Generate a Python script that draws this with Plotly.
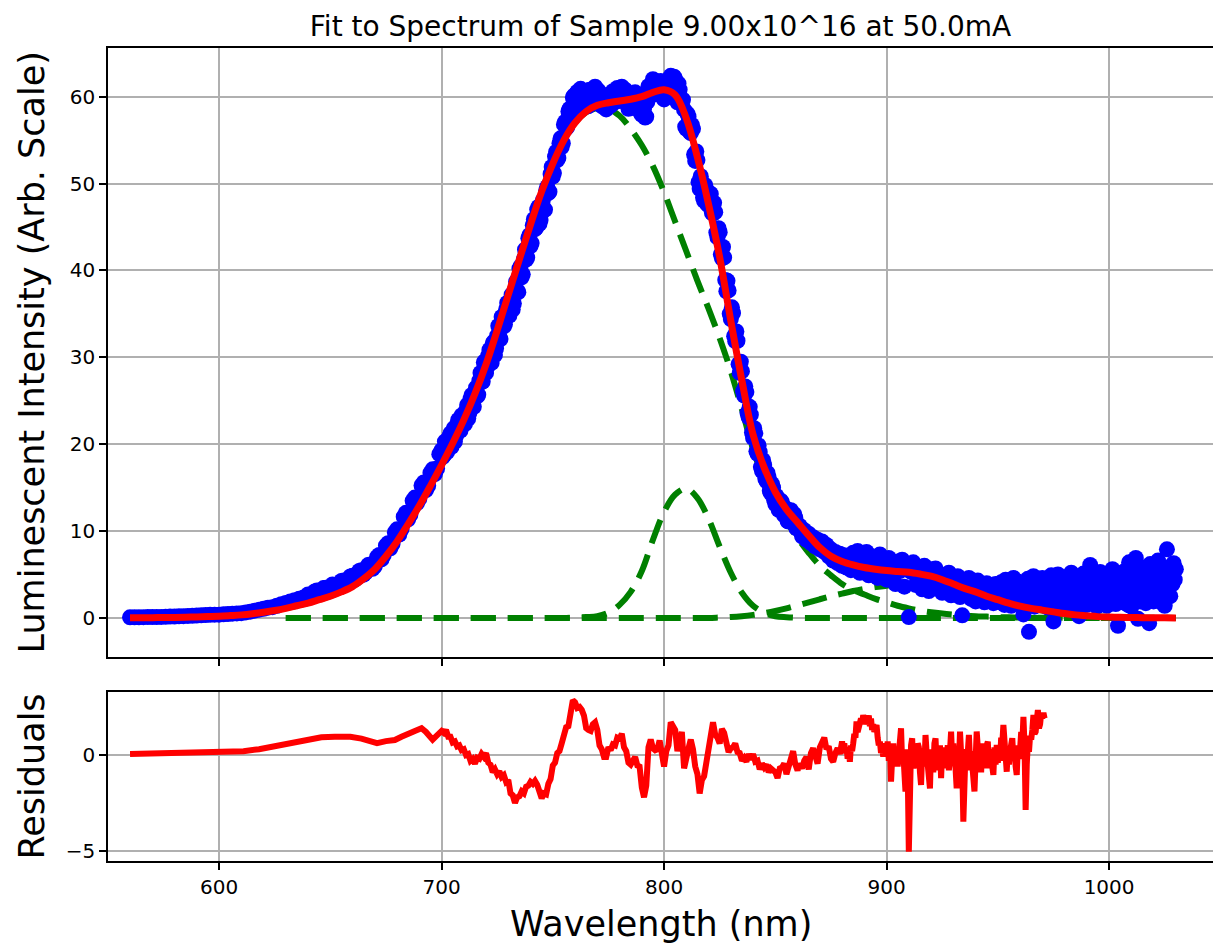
import plotly.graph_objects as go

# ---------------- data ----------------
# measured spectrum, blue points
wl_a = list(range(560, 700, 2))
int_a = [0.07, 0.08, 0.08, 0.09, 0.10, 0.10, 0.11, 0.12, 0.13, 0.15,
         0.16, 0.18, 0.20, 0.23, 0.25, 0.28, 0.30, 0.33, 0.36, 0.37,
         0.37, 0.41, 0.45, 0.49, 0.52, 0.55, 0.63, 0.72, 0.83, 0.95,
         1.05, 1.18, 1.24, 1.40, 1.58, 1.72, 1.90, 2.04, 2.20, 2.36,
         2.70, 2.55, 3.15, 3.00, 3.47, 3.24, 3.80, 3.75, 4.32, 4.15,
         4.85, 4.65, 5.50, 5.25, 6.15, 5.94, 7.25, 7.20, 8.60, 8.53,
         10.2, 10.2, 12.1, 11.9, 13.85, 13.7, 15.6, 15.2, 17.1, 17.2]
wl_a2 = list(range(641, 700, 2))
int_a2 = [2.4, 3.05, 2.8, 3.44, 3.16, 3.85, 3.5, 4.26, 3.94, 4.78,
          4.4, 5.4, 4.98, 6.08, 5.65, 7.0, 6.73, 8.33, 8.02, 9.84,
          9.6, 11.65, 11.35, 13.48, 13.23, 15.25, 14.7, 16.7, 16.55, 18.85]
wl_b = list(range(700, 861))
int_b = [19.3, 18.7, 19.95, 19.7, 21.25, 20.5, 20.3, 22.3, 21.9, 23.3,
         22.4, 23.85, 22.95, 25.2, 24.6, 25.95, 25.5, 27.3, 27.15, 29.4,
         28.2, 30.2, 29.8, 31.6, 30.25, 32.5, 32.35, 34.65, 33.55, 35.5,
         35.0, 36.6, 35.5, 37.65, 37.7, 40.2, 39.2, 41.3, 41.25, 43.7,
         42.8, 45.2, 44.75, 47.0, 45.35, 47.3, 46.9, 49.2, 48.9, 51.1,
         50.8, 53.1, 52.7, 54.65, 54.2, 56.8, 56.35, 58.3, 58.0, 59.9,
         59.1, 60.55, 59.0, 60.75, 59.6, 60.6, 58.9, 60.35, 59.4, 61.15,
         59.5, 60.3, 58.9, 60.1, 58.53, 60.2, 58.97, 60.63, 59.7, 61.0,
         59.72, 61.14, 59.6, 60.5, 58.6, 59.6, 59.0, 60.5, 58.85, 59.61,
         57.9, 58.6, 57.7, 61.2, 60.67, 62.0, 60.27, 61.73, 60.59, 61.6,
         59.68, 61.25, 60.5, 62.4, 61.6, 62.0, 59.35, 60.8, 59.4, 58.5,
         56.3, 57.7, 55.8, 56.3, 52.6, 52.7, 49.4, 50.2, 48.0, 49.2,
         47.5, 48.8, 46.55, 46.7, 43.8, 44.4, 41.4, 41.5, 37.6, 37.7,
         34.4, 35.1, 31.85, 31.9, 28.2, 28.4, 25.6, 26.0, 23.1, 23.4,
         20.71, 21.25, 18.9, 19.11, 16.9, 17.6, 15.75, 16.2, 14.35, 15.0,
         13.1, 13.7, 12.6, 13.3, 11.8, 12.1, 11.1, 12.4, 11.47, 11.5,
         10.4]
wl_b2 = [700.5 + i for i in range(160)]
int_b2 = [18.5, 20.3, 19.1, 20.9, 19.7, 21.8, 20.95, 22.8, 21.55, 23.3,
          22.3, 24.5, 23.6, 25.65, 24.3, 26.5, 25.7, 28.2, 27.2, 29.55,
          28.85, 30.85, 29.35, 31.8, 31.0, 33.6, 32.1, 34.65, 33.8, 36.25,
          34.8, 37.2, 36.2, 38.7, 37.5, 40.45, 39.55, 42.4, 41.5, 44.05,
          43.15, 45.9, 44.9, 47.3, 45.8, 48.05, 47.0, 49.6, 49.05, 51.9,
          51.2, 53.65, 52.95, 55.2, 54.65, 57.1, 56.5, 58.6, 58.35, 60.1,
          60.3, 59.3, 60.9, 59.5, 60.4, 59.2, 60.8, 59.6, 60.5, 59.3,
          60.7, 59.1, 60.0, 58.8, 59.9, 59.0, 60.4, 59.3, 60.6, 59.5,
          60.9, 59.8, 60.8, 59.1, 59.9, 58.7, 60.2, 58.9, 59.6, 58.1,
          58.9, 57.6, 59.4, 60.2, 61.4, 60.5, 61.5, 60.4, 61.8, 60.3,
          61.0, 60.2, 61.9, 61.1, 62.3, 60.9, 61.5, 59.6, 59.65, 56.55,
          58.05, 55.95, 56.75, 53.35, 53.7, 50.15, 50.85, 48.4, 49.8, 47.6,
          48.9, 46.63, 47.78, 44.35, 44.85, 41.85, 42.7, 38.9, 38.8, 35.0,
          35.75, 32.43, 32.98, 29.2, 29.5, 26.1, 26.65, 23.6, 24.3, 21.35,
          21.83, 19.18, 19.86, 17.36, 18.15, 16.03, 16.68, 14.63, 15.43, 13.55,
          14.05, 12.45, 13.5, 12.1, 12.65, 11.15, 12.2, 11.24, 11.94, 10.3]
wl_c = list(range(861, 951))
int_c = [10.6, 9.4, 10.1, 9.0, 9.7, 8.6, 9.3, 8.2, 9.0, 7.9,
         8.8, 7.6, 8.4, 7.1, 7.9, 6.6, 7.6, 6.3, 7.4, 6.0,
         7.2, 5.8, 6.9, 5.5, 7.5, 6.4, 7.7, 5.2, 7.4, 6.2,
         7.6, 4.9, 7.1, 5.9, 6.8, 4.6, 7.3, 5.6, 6.4, 4.4,
         6.9, 5.1, 6.2, 3.9, 6.5, 5.4, 6.7, 3.6, 5.8, 0.1,
         5.3, 6.4, 3.8, 5.9, 4.6, 3.3, 6.0, 4.9, 3.1, 5.6,
         4.2, 5.7, 3.4, 5.0, 2.9, 4.7, 3.6, 5.2, 2.6, 4.5,
         3.1, 4.8, 2.4, 0.3, 4.2, 2.9, 4.6, 2.2, 3.8, 1.9,
         4.3, 2.6, 3.5, 1.8, 4.0, 2.4, 3.2, 1.7, 3.9, 2.2]
wl_d = [950.5 + 0.5 * i for i in range(160)]
int_d = [3.6, 1.8, 4.1, 2.5, 3.2, 1.5, 4.4, 2.9, 3.7, 2.0,
         3.9, 1.4, 3.0, 4.6, 2.3, 3.5, 1.7, 4.2, 2.6, 3.3,
         1.9, 4.0, 0.4, 2.8, 3.7, 1.5, 4.5, -1.6, 2.4, 3.6,
         2.0, 4.8, 1.3, 3.3, 2.6, 4.1, 1.8, 3.9, 2.9, 4.6,
         1.6, 3.4, 2.2, 4.3, 1.2, 3.6, 2.7, 4.9, 1.9, -0.4,
         3.1, 4.5, 2.3, 5.0, 1.5, 3.8, 2.8, 4.1, 1.7, 4.6,
         2.5, 3.5, 1.4, 4.4, 3.0, 5.2, 2.1, 3.7, 1.6, 4.8,
         2.6, 3.9, 0.2, 4.2, 1.8, 3.3, 5.1, 2.4, 3.6, 1.5,
         4.7, 2.9, 6.1, 3.4, 1.9, 4.5, 2.6, 3.8, 1.3, 4.9,
         2.2, 5.3, 3.1, 1.7, 4.2, 2.8, 5.0, 1.4, 3.6, 4.8,
         2.0, 3.9, 5.6, 2.5, 4.4, 1.6, 3.2, -0.9, 5.0, 2.7,
         4.1, 1.8, 3.7, 5.4, 2.4, 4.6, 1.5, 6.4, 3.3, 1.3,
         4.5, 2.6, 5.7, 6.9, 3.0, -0.1, 4.7, 1.9, 3.8, 2.2,
         5.8, 3.5, 1.7, 4.9, 3.2, -0.6, 6.2, 2.8, 4.0, 1.9,
         5.1, 4.4, 2.4, 6.6, 3.4, 5.3, 1.8, 4.6, 2.9, 1.4,
         5.5, 7.9, 3.6, 4.9, 2.5, 6.0, 3.9, 6.3, 4.4, 5.6]

# total fit, red line
fit_wl = list(range(560, 1031, 5))
fit_val = [0.02, 0.02, 0.03, 0.04, 0.05, 0.08, 0.12, 0.16, 0.2, 0.27,
           0.35, 0.48, 0.65, 0.85, 1.1, 1.4, 1.7, 2.1, 2.5, 3.0,
           3.6, 4.5, 5.6, 7.1, 8.8, 10.8, 12.9, 15.2, 17.6, 20.1,
           22.8, 25.8, 29.2, 33.1, 37.2, 41.3, 45.3, 49.1, 52.3, 55.0,
           57.0, 58.3, 59.0, 59.3, 59.5, 59.7, 60.0, 60.5, 60.8, 60.2,
           57.5, 53.0, 47.6, 41.5, 34.2, 27.3, 21.1, 17.3, 14.5, 12.5,
           11.0, 9.5, 8.1, 7.1, 6.5, 6.1, 5.8, 5.6, 5.45, 5.35,
           5.25, 5.05, 4.8, 4.4, 3.9, 3.4, 3.0, 2.5, 2.1, 1.7,
           1.35, 1.1, 0.9, 0.7, 0.5, 0.35, 0.25, 0.15, 0.1, 0.07,
           0.05, 0.03, 0.02, 0.01, 0.0]

# fitted components, green dashed
comp_wl = list(range(630, 1031, 5))
comp1 = [1.1, 1.4, 1.7, 2.1, 2.5, 3.0, 3.6, 4.5, 5.6, 7.1,
         8.8, 10.8, 12.9, 15.2, 17.6, 20.1, 22.8, 25.8, 29.2, 33.1,
         37.2, 41.3, 45.3, 49.1, 52.3, 55.0, 57.0, 58.2, 58.7, 58.6,
         57.8, 56.3, 54.4, 52.0, 49.0, 45.6, 42.2, 38.8, 35.6, 32.2,
         28.4, 24.0, 19.4, 15.9, 13.3, 11.1, 9.2, 7.5, 6.0, 4.9,
         3.9, 3.2, 2.7, 2.2, 1.8, 1.4, 1.1, 0.85, 0.65, 0.5,
         0.38, 0.28, 0.2, 0.15, 0.1, 0.07, 0.05, 0.03, 0.02, 0.01,
         0.01, 0, 0, 0, 0, 0, 0, 0, 0, 0,
         0]
comp2 = [0, 0, 0, 0, 0, 0, 0, 0, 0, 0,
         0, 0, 0, 0, 0, 0, 0, 0, 0, 0,
         0, 0, 0, 0, 0, 0, 0.05, 0.1, 0.2, 0.6,
         1.5, 3.0, 5.4, 9.0, 12.2, 14.2, 14.9, 13.8, 11.4, 8.2,
         5.2, 2.9, 1.4, 0.6, 0.2, 0.08, 0.02, 0, 0, 0,
         0, 0, 0, 0, 0, 0, 0, 0, 0, 0,
         0, 0, 0, 0, 0, 0, 0, 0, 0, 0,
         0, 0, 0, 0, 0, 0, 0, 0, 0, 0,
         0]
comp3 = [0, 0, 0, 0, 0, 0, 0, 0, 0, 0,
         0, 0, 0, 0, 0, 0, 0, 0, 0, 0,
         0, 0, 0, 0, 0, 0, 0, 0, 0, 0,
         0, 0, 0, 0, 0, 0, 0, 0, 0, 0.05,
         0.1, 0.2, 0.35, 0.55, 0.8, 1.1, 1.45, 1.8, 2.15, 2.5,
         2.8, 3.1, 3.35, 3.55, 3.7, 3.85, 3.95, 3.95, 3.9, 3.75,
         3.5, 3.15, 2.8, 2.4, 2.0, 1.65, 1.3, 1.05, 0.85, 0.65,
         0.5, 0.35, 0.25, 0.17, 0.1, 0.07, 0.05, 0.03, 0.02, 0.01,
         0]

# residuals, red line in lower panel
res1_wl = [560, 570, 580, 590, 600, 611, 618, 624, 630, 635,
           641, 646, 652, 659, 664, 668, 671, 675, 679, 682,
           685, 688, 691, 693, 696, 698]
res1_val = [0.05, 0.08, 0.10, 0.13, 0.17, 0.20, 0.30, 0.43, 0.58, 0.70,
            0.83, 0.92, 0.95, 0.95, 0.85, 0.70, 0.62, 0.72, 0.78, 0.95,
            1.13, 1.25, 1.39, 1.20, 0.80, 1.00]
res2_wl = list(range(700, 880))
res2_val = [1.25, 1.15, 1.3, 0.95, 0.95, 0.65, 0.7, 0.45, 0.5, 0.25,
            0.3, 0.0, 0.05, -0.3, -0.2, -0.45, -0.15, -0.2, 0.05, -0.1,
            0.1, -0.4, -0.5, -0.9, -0.75, -1.0, -0.85, -1.15, -1.05, -1.4,
            -1.3, -2.0, -2.1, -2.5, -2.2, -2.15, -1.9, -2.0, -1.65, -1.6,
            -1.4, -1.5, -1.35, -1.55, -1.9, -2.25, -2.0, -2.05, -1.5, -1.25,
            -0.55, -0.4, 0.1, 0.2, 0.6, 1.0, 1.45, 1.5, 2.5, 2.85,
            2.75, 2.45, 2.5, 2.35, 2.05, 1.4, 1.3, 1.25, 1.6, 1.7,
            1.3, 0.5, 0.3, -0.1, -0.1, 0.4, 0.25, 0.55, 0.5, 0.9,
            0.85, 1.1, 0.4, 0.2, -0.4, -0.5, -0.3, -0.1, -0.55, -0.6,
            -1.7, -2.2, -1.6, 0.4, 0.8, 0.35, 0.25, 0.3, 0.75, 0.0,
            -0.6, 0.2, 0.5, 1.7, 1.5, 1.3, 0.2, 0.95, 1.2, -0.7,
            -0.3, 0.35, 0.8, 0.3, -0.6, -1.0, -2.0, -1.3, -1.1, -0.45,
            0.1, 1.0, 1.7, 1.05, 0.9, 0.6, 1.35, 1.15, 0.75, 0.15,
            0.35, 0.4, 0.6, 0.15, 0.1, -0.3, -0.15, -0.35, 0.05, -0.25,
            0.05, -0.35, -0.3, -0.75, -0.45, -0.65, -0.5, -0.9, -0.7, -0.85,
            -0.9, -1.2, -0.7, -0.65, -0.45, -1.0, -0.55, -0.35, 0.2, -0.5,
            -0.8, -0.45, -0.7, -0.3, -0.1, -0.75, 0.1, 0.35, -0.2, -0.45,
            0.4, 0.6, 0.9, 0.3, 0.45, -0.2, -0.35, 0.1, 0.35, 0.05]
res3_wl = [880 + 0.5 * i for i in range(183)]
res3_val = [0.7, 0.3, 0.6, 0.1, 0.4, -0.2, 0.3, -0.35, 0.5, 0.2,
            0.6, 1.1, 0.9, 1.74, 1.2, 1.5, 1.4, 1.9, 1.6, 2.08,
            1.7, 1.95, 1.6, 1.8, 2.05, 1.5, 1.9, 1.3, 1.6, 1.2,
            1.5, 1.56, 0.9, 0.5, 0.7, 0.1, 0.4, -0.09, 0.6, 0.4,
            0.2, 0.7, -0.3, 0.5, -1.39, -0.2, 0.6, -0.5, 0.3, 0.17,
            -0.6, 0.6, 0.2, 1.39, -0.4, 0.2, -0.9, -1.9, 0.3, -0.8,
            -5.03, -0.5, 0.5, 0.87, -0.7, -0.3, 0.4, -0.69, 0.6, 0.4,
            -0.9, -1.56, 0.2, 0.3, -0.6, 1.04, 0.1, -0.4, -0.9, -1.74,
            0.3, -0.2, -0.9, 0.6, 0.87, -0.5, 0.2, -0.8, 0.5, -1.21,
            0.3, -0.6, 0.4, -0.69, -0.2, 0.5, -0.8, 0.9, 1.22, -0.3,
            0.6, -0.3, -0.7, -1.74, 0.2, -0.5, 1.22, 0.1, -0.6, -3.47,
            -0.4, 0.3, -0.8, 0.5, 1.04, -0.3, 0.2, -0.5, -1.2, -1.9,
            -0.3, 1.22, 0.4, -0.6, 0.2, -0.9, 0.6, -0.69, 0.3, -0.4,
            0.5, 0.69, -0.7, 0.3, -0.2, -0.9, -1.04, 0.4, -0.5, 0.52,
            -0.4, 0.3, -0.3, 0.9, 0.6, 1.56, 0.5, -0.6, -0.87, 0.3,
            -0.5, 0.2, 0.7, 0.87, -0.3, 0.4, -0.6, -1.04, 0.5, -0.2,
            0.3, 1.2, 0.6, 1.99, 0.5, -2.86, -0.5, 0.6, 0.17, 1.0,
            0.8, 1.3, 2.08, 1.1, 1.2, 1.8, 2.34, 1.4, 1.6, 2.2,
            1.9, 2.2, 1.91]

x_ticks = [600, 700, 800, 900, 1000]
y_ticks_top = [0, 10, 20, 30, 40, 50, 60]
y_ticks_bottom = [-5, 0]

title_text = "Fit to Spectrum of Sample 9.00x10^16 at 50.0mA"
xlabel = "Wavelength (nm)"
ylabel_top = "Luminescent Intensity (Arb. Scale)"
ylabel_bottom = "Residuals"

# ---------------- figure ----------------
FONT = "DejaVu Sans"
BLUE = "#0000ff"
RED = "#ff0000"
GREEN = "#008000"

FIG_W, FIG_H = 1213, 948

fig = go.Figure()

for comp in (comp1, comp2, comp3):
    fig.add_trace(go.Scatter(x=comp_wl, y=comp, mode="lines", xaxis="x", yaxis="y",
                             line=dict(color=GREEN, width=6, dash="25px,12px", shape="spline"),
                             hoverinfo="skip"))

data_wl = wl_a + wl_a2 + wl_b + wl_b2 + wl_c + wl_d
data_int = int_a + int_a2 + int_b + int_b2 + int_c + int_d
fig.add_trace(go.Scatter(x=data_wl, y=data_int, mode="markers", xaxis="x", yaxis="y",
                         marker=dict(color=BLUE, size=16, line=dict(width=0))))

fig.add_trace(go.Scatter(x=fit_wl, y=fit_val, mode="lines", xaxis="x", yaxis="y",
                         line=dict(color=RED, width=7, shape="spline")))

res_wl = res1_wl + res2_wl + res3_wl
res_val = res1_val + res2_val + res3_val
fig.add_trace(go.Scatter(x=res_wl, y=res_val, mode="lines", xaxis="x2", yaxis="y2",
                         line=dict(color=RED, width=6)))

xr = [550.1, 1046.7]
common_axis = dict(showgrid=True, gridcolor="#b0b0b0", gridwidth=1.6,
                   showline=True, linecolor="black", linewidth=1.6,
                   ticks="outside", ticklen=7, tickwidth=1.6, tickcolor="black",
                   zeroline=False, automargin=False,
                   tickfont=dict(family=FONT, size=20, color="black"))

fig.update_layout(
    width=FIG_W, height=FIG_H,
    margin=dict(l=108, r=0, t=48, b=87, autoexpand=False),
    plot_bgcolor="white", paper_bgcolor="white",
    showlegend=False,
    title=dict(text=title_text, x=0.5, xref="paper", xanchor="center",
               y=1 - 26 / FIG_H, yref="container", yanchor="middle",
               font=dict(family=FONT, size=28, color="black")),
    xaxis=dict(domain=[0, 1], anchor="y", range=xr, tickvals=x_ticks,
               showticklabels=False, mirror=True, **common_axis),
    yaxis=dict(domain=[0.2509, 1], anchor="x", range=[-4.5, 65.6],
               tickvals=y_ticks_top, mirror=False, **common_axis),
    xaxis2=dict(domain=[0, 1], anchor="y2", range=xr, tickvals=x_ticks,
                matches="x", mirror=True, **common_axis),
    yaxis2=dict(domain=[0, 0.2079], anchor="x2", range=[-5.52, 3.28],
                tickvals=y_ticks_bottom, mirror=False, **common_axis),
    annotations=[
        dict(text=ylabel_top, x=-76 / 1105, y=0.6255, xref="paper", yref="paper",
             textangle=-90, showarrow=False, xanchor="center", yanchor="middle",
             font=dict(family=FONT, size=35, color="black")),
        dict(text=ylabel_bottom, x=-76 / 1105, y=0.104, xref="paper", yref="paper",
             textangle=-90, showarrow=False, xanchor="center", yanchor="middle",
             font=dict(family=FONT, size=35, color="black")),
        dict(text=xlabel, x=0.5, y=(861 - 924) / 813, xref="paper", yref="paper",
             showarrow=False, xanchor="center", yanchor="middle",
             font=dict(family=FONT, size=35, color="black")),
    ],
)

# remove the default 8px page margin so the figure fills the window exactly
fig.write_html("out.html",
               config={"displayModeBar": False},
               post_script="document.body.style.margin='0';"
                           "document.body.style.overflow='hidden';")
